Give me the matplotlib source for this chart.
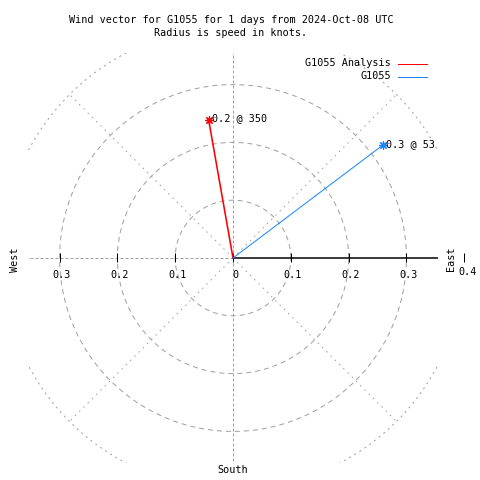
import numpy as np
import matplotlib
matplotlib.use("Agg")
import matplotlib.pyplot as plt

# ---- data ----
series_names = ["G1055 Analysis", "G1055"]
speeds = [0.243, 0.324]          # knots
directions = [350, 53]           # degrees clockwise from north
colors = ["#ff0000", "#1a86ff"]
ring_radii = [0.1, 0.2, 0.3, 0.4]
spoke_angles = [0, 45, 90, 135, 180, 225, 270, 315]
tick_values = [-0.3, -0.2, -0.1, 0.0, 0.1, 0.2, 0.3, 0.4]
tick_labels = ["0.3", "0.2", "0.1", "0", "0.1", "0.2", "0.3", "0.4"]
title_lines = ["Wind vector for G1055 for 1 days from 2024-Oct-08 UTC",
               "Radius is speed in knots."]

W = H = 480
fig = plt.figure(figsize=(4.8, 4.8), dpi=100)
cx, cy = 233, 258
scale = 578.0  # px per knot
lim = 0.355
half = lim * scale
ax = fig.add_axes([(cx - half) / W, (H - cy - half) / H, 2 * half / W, 2 * half / H])
ax.set_xlim(-lim, lim)
ax.set_ylim(-lim, lim)
ax.set_aspect("auto")
ax.axis("off")

FONT = "DejaVu Sans Mono"
FS = 7.25
grey = "#a0a0a0"
PX = 0.72  # one pixel in points

def fx(px):
    return px / W

def fy(py):
    return 1 - py / H

# rings
t = np.linspace(0, 2 * np.pi, 721)
for r in ring_radii:
    ls = (0, (5, 4)) if r < 0.35 else (0, (2, 4))
    ax.plot(r * np.cos(t), r * np.sin(t), color=grey, lw=PX, linestyle=ls)

# spokes
for a in spoke_angles:
    if a == 90:
        continue
    ar = np.deg2rad(a)
    ex, ey = 0.4 * np.sin(ar), 0.4 * np.cos(ar)
    ls = (0, (3, 2)) if a % 90 == 0 else (0, (1.5, 4.5))
    ax.plot([0, ex], [0, ey], color=grey, lw=PX, linestyle=ls)

# solid positive x axis
ax.plot([0, lim], [0, 0], color="black", lw=PX * 1.5)

# ticks (short vertical segments)
th = 4.0 / scale
for v in tick_values:
    ax.plot([v, v], [-th, th + 0.001], color="black", lw=PX, clip_on=False,
            solid_capstyle="butt")

# tick labels
for v, lab in zip(tick_values, tick_labels):
    if v == 0.4:
        continue
    px = cx + v * scale + 2
    fig.text(fx(px), fy(275), lab, fontsize=FS, family=FONT, ha="center", va="center")
fig.text(fx(468), fy(272), tick_labels[-1], fontsize=FS, family=FONT, ha="center", va="center")

# vectors
for name, s, d, c in zip(series_names, speeds, directions, colors):
    ar = np.deg2rad(d)
    x, y = s * np.sin(ar), s * np.cos(ar)
    lw = 1.6 * PX if c == "#ff0000" else PX
    ax.plot([0, x], [0, y], color=c, lw=lw)
    ax.plot([x], [y], marker=(8, 2, 0), color=c, markersize=6, markeredgewidth=PX * 1.2)
    ax.annotate(f"{s:.1f} @ {d}", (x, y), xytext=(2.5, 1), textcoords="offset points",
                fontsize=FS, family=FONT, ha="left", va="center", annotation_clip=False)

# titles
fig.text(fx(231), fy(20), title_lines[0], fontsize=FS, family=FONT, ha="center", va="center")
fig.text(fx(231), fy(33), title_lines[1], fontsize=FS, family=FONT, ha="center", va="center")

# legend
for i, (name, c) in enumerate(zip(series_names, colors)):
    yy = 63 + 13 * i
    fig.text(fx(391), fy(yy), name, fontsize=FS, family=FONT, ha="right", va="center")
    fig.add_artist(plt.Line2D([fx(398), fx(427)], [fy(yy + 0.5), fy(yy + 0.5)], color=c,
                              lw=PX))

# compass labels
fig.text(fx(15), fy(260), "West", fontsize=FS, family=FONT, rotation=90, ha="center", va="center")
fig.text(fx(451), fy(259), "East", fontsize=FS, family=FONT, rotation=90, ha="center", va="center")
fig.text(fx(233), fy(470), "South", fontsize=FS, family=FONT, ha="center", va="center")

fig.savefig("out.png", dpi=100, facecolor="white")
